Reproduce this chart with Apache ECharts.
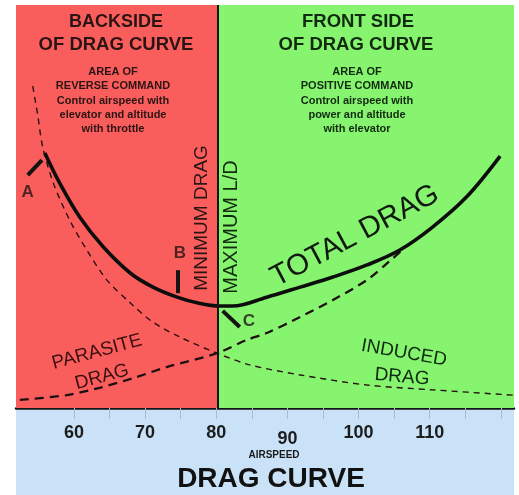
<!DOCTYPE html>
<html>
<head>
<meta charset="utf-8">
<title>Drag Curve</title>
<script src="https://cdn.jsdelivr.net/npm/echarts@6/dist/echarts.min.js"></script>
<style>
    html, body { margin: 0; padding: 0; background: #fff; }
    #chart { width: 519px; height: 495px; }
</style>
</head>
<body>
<div id="chart"></div>
<script>
// airspeed range shown on the axis (knots)
const speedMin = 51.85;
const speedMax = 121.85;
const dividerSpeed = 80.23;
const tickValues = [60, 65, 70, 75, 80, 85, 90, 95, 100, 105, 110, 115, 120];
const labelValues = [60, 70, 80, 90, 100, 110];

// total drag (solid)
const totalSpeed = [55.9, 58.0, 60.8, 64.1, 67.9, 71.1, 74.5, 77.3, 80.5, 82.3, 87.1, 91.8, 96.4, 101.2, 105.8, 110.4, 115.2, 119.9];
const totalDrag = [63.3, 55.8, 47.4, 40.0, 33.5, 30.0, 27.5, 26.1, 25.3, 25.3, 27.5, 30.0, 32.5, 35.5, 39.2, 44.9, 52.4, 62.5];

// induced drag (thin dashed, falling)
const inducedSpeed = [54.2, 54.9, 55.6, 57.1, 59.4, 61.8, 64.6, 67.9, 71.1, 74.9, 80.1, 84.7, 91.8, 101.2, 110.4, 121.7];
const inducedDrag = [79.9, 72.7, 64.8, 55.8, 46.6, 39.2, 31.8, 26.1, 21.3, 17.6, 13.6, 10.7, 8.2, 5.7, 4.5, 3.2];

// parasite drag (heavy dashed, rising)
const parasiteSpeed = [52.4, 59.0, 63.6, 68.3, 73.1, 80.1, 84.3, 87.1, 91.8, 96.4, 101.2, 104.4, 106.0];
const parasiteDrag = [2.0, 3.2, 5.0, 7.4, 10.2, 13.6, 16.9, 18.6, 22.6, 26.8, 31.8, 36.5, 39.0];

// point markers A, B, C
const markerNames = ['A', 'B', 'C'];
const markerLabelAt = [[53.5, 53.6], [74.9, 38.5], [84.6, 21.6]];
const markerPointer = [
    [[53.5, 57.8], [55.5, 61.5]],
    [[74.6, 34.2], [74.6, 28.5]],
    [[80.9, 24.1], [83.3, 20.1]]
];

const FONT = '"Liberation Sans", Arial, sans-serif';

function pairs(xs, ys) {
    return xs.map((x, i) => [x, ys[i]]);
}

function txt(text, x, y, size, opts) {
    opts = opts || {};
    return {
        type: 'text',
        x: x,
        y: y,
        rotation: (opts.rotate || 0) * Math.PI / 180,
        z: 100,
        style: {
            text: text,
            fontFamily: FONT,
            fontSize: size,
            fontWeight: opts.weight || 'normal',
            fill: opts.color || '#1a1a1a',
            align: 'center',
            verticalAlign: opts.vAlign || 'middle',
            lineHeight: opts.lineHeight
        }
    };
}

const chart = echarts.init(document.getElementById('chart'));

const option = {
    animation: false,
    backgroundColor: '#fff',
    grid: { left: 16, right: 5, top: 5, bottom: 87 },
    xAxis: {
        type: 'value',
        min: speedMin,
        max: speedMax,
        splitLine: { show: false },
        axisLine: { show: true, onZero: false, lineStyle: { color: '#141414', width: 2.5 } },
        axisTick: {
            show: true,
            customValues: tickValues,
            length: 11,
            lineStyle: { color: '#a8bdd0', width: 1 }
        },
        axisLabel: {
            customValues: labelValues,
            margin: 16,
            fontSize: 18,
            fontWeight: 'bold',
            fontFamily: FONT,
            color: '#1c1c1c',
            formatter: function (v) {
                return v === 90 ? '{low|90}' : String(v);
            },
            rich: {
                low: { fontSize: 18, fontWeight: 'bold', fontFamily: FONT, color: '#1c1c1c', padding: [6, 0, 0, 0] }
            }
        }
    },
    yAxis: { type: 'value', min: 0, max: 100, show: false },
    graphic: [
        { type: 'rect', z: -1, shape: { x: 16, y: 408, width: 498, height: 87 }, style: { fill: '#c9e2f7' } },

        txt('BACKSIDE', 116, 22, 18, { weight: 'bold', color: '#2b1414' }),
        txt('OF DRAG CURVE', 116, 45, 18.5, { weight: 'bold', color: '#2b1414' }),
        txt('AREA OF\nREVERSE COMMAND\nControl airspeed with\nelevator and altitude\nwith throttle',
            113, 65, 11, { weight: 'bold', color: '#2b1414', vAlign: 'top', lineHeight: 14.2 }),

        txt('FRONT SIDE', 358, 22, 18.5, { weight: 'bold', color: '#112a10' }),
        txt('OF DRAG CURVE', 356, 45, 18.5, { weight: 'bold', color: '#112a10' }),
        txt('AREA OF\nPOSITIVE COMMAND\nControl airspeed with\npower and altitude\nwith elevator',
            357, 65, 11, { weight: 'bold', color: '#112a10', vAlign: 'top', lineHeight: 14.2 }),

        txt('MINIMUM DRAG', 202, 218, 19, { rotate: 90, color: '#2b1414' }),
        txt('MAXIMUM L/D', 231, 227, 20, { rotate: 90, color: '#112a10' }),
        txt('TOTAL DRAG', 355, 236, 29.5, { rotate: 28, color: '#101810' }),

        txt('PARASITE', 97, 352, 19, { rotate: 15, color: '#3a1010' }),
        txt('DRAG', 102, 377, 19, { rotate: 15, color: '#3a1010' }),
        txt('INDUCED', 404, 353, 19, { rotate: -10, color: '#0f2a0f' }),
        txt('DRAG', 402, 377, 19, { rotate: -5, color: '#0f2a0f' }),

        txt('AIRSPEED', 274, 455, 10, { weight: 'bold', color: '#1a1a1a' }),
        txt('DRAG CURVE', 271, 479, 28, { weight: 'bold', color: '#111' })
    ],
    series: [
        {
            type: 'line',
            name: 'zones',
            data: [],
            markArea: {
                silent: true,
                data: [
                    [{ xAxis: speedMin, itemStyle: { color: '#fa5e5c' } }, { xAxis: dividerSpeed }],
                    [{ xAxis: dividerSpeed, itemStyle: { color: '#86f46f' } }, { xAxis: speedMax }]
                ]
            },
            markLine: {
                silent: true,
                symbol: 'none',
                label: { show: false },
                lineStyle: { color: '#151515', width: 2, type: 'solid' },
                data: [{ xAxis: dividerSpeed }]
            }
        },
        {
            type: 'line',
            name: 'Induced Drag',
            data: pairs(inducedSpeed, inducedDrag),
            smooth: 0.3,
            symbol: 'none',
            lineStyle: { color: '#2a1010', width: 1.4, type: [6, 5] }
        },
        {
            type: 'line',
            name: 'Parasite Drag',
            data: pairs(parasiteSpeed, parasiteDrag),
            smooth: 0.3,
            symbol: 'none',
            lineStyle: { color: '#1e1010', width: 2.3, type: [9, 6] }
        },
        {
            type: 'line',
            name: 'Total Drag',
            data: pairs(totalSpeed, totalDrag),
            smooth: 0.35,
            symbol: 'none',
            lineStyle: { color: '#0d0d0d', width: 3.6 }
        },
        {
            type: 'lines',
            coordinateSystem: 'cartesian2d',
            polyline: false,
            silent: true,
            lineStyle: { color: '#141414', width: 4, opacity: 1, curveness: 0 },
            data: markerPointer.map(c => ({ coords: c }))
        },
        {
            type: 'scatter',
            symbolSize: 0,
            silent: true,
            data: markerNames.map((n, i) => ({ name: n, value: markerLabelAt[i] })),
            label: {
                show: true,
                position: 'inside',
                formatter: '{b}',
                fontFamily: FONT,
                fontSize: 17,
                fontWeight: 'bold',
                color: '#241414'
            }
        }
    ]
};

chart.setOption(option);
</script>
</body>
</html>
